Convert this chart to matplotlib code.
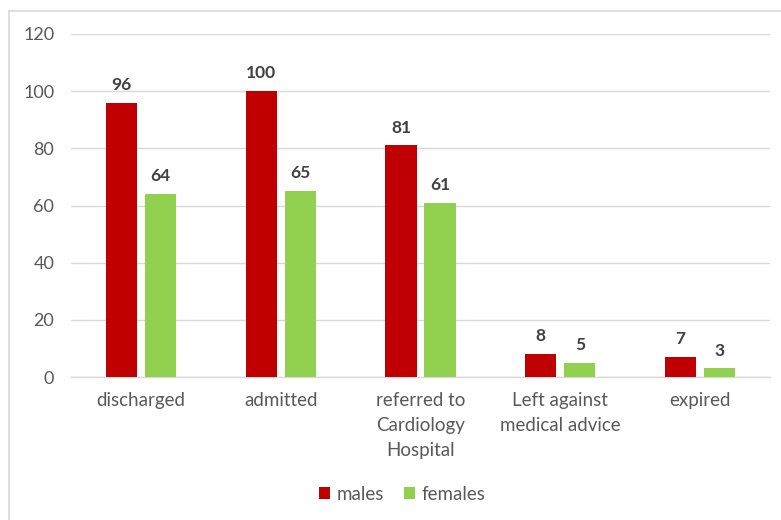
import matplotlib
matplotlib.use("Agg")
import matplotlib.pyplot as plt
from matplotlib.lines import Line2D
import numpy as np

categories = ["discharged", "admitted", "referred to\nCardiology\nHospital",
              "Left against\nmedical advice", "expired"]
males = [96, 100, 81, 8, 7]
females = [64, 65, 61, 5, 3]
yticks = [0, 20, 40, 60, 80, 100, 120]

plt.rcParams['font.family'] = ['Lato', 'DejaVu Sans']

W, H = 781, 520
fig = plt.figure(figsize=(W / 100, H / 100), dpi=100)
ax = fig.add_axes([71 / W, (H - 377) / H, (770 - 71) / W, (377 - 34) / H])

x = np.arange(len(categories))
bw = 0.222
gap = 0.057
off = (bw + gap) / 2
ax.bar(x - off, males, bw, color="#C00000", label="males", zorder=3)
ax.bar(x + off, females, bw, color="#92D050", label="females", zorder=3)

for xs, vals in ((x - off, males), (x + off, females)):
    for xi, v in zip(xs, vals):
        ax.annotate(str(v), (xi, v), xytext=(0, 7), textcoords="offset points",
                    ha="center", va="bottom", fontsize=12.5, fontweight="bold",
                    color="#404040")

ax.set_xlim(-0.5, len(categories) - 0.5)
ax.set_ylim(0, 120)
ax.set_yticks(yticks)
ax.set_xticks(x)
ax.set_xticklabels(categories, fontsize=13.5, color="#595959", linespacing=1.55)
ax.tick_params(axis="y", labelsize=13, labelcolor="#595959", length=0, pad=12)
ax.tick_params(axis="x", length=0, pad=11)
ax.grid(axis="y", color="#D9D9D9", linewidth=1, zorder=0)
for s in ["top", "right", "left"]:
    ax.spines[s].set_visible(False)
ax.spines["bottom"].set_color("#D9D9D9")
ax.spines["bottom"].set_linewidth(1)

leg = fig.legend(loc="center", bbox_to_anchor=(402 / W, 1 - 494 / H), ncol=2,
                 frameon=False, fontsize=13.5, handlelength=0.6, handleheight=0.6,
                 handletextpad=0.35, columnspacing=1.05)
for t in leg.get_texts():
    t.set_color("#595959")

# outer chart border (left and top edges)
fig.add_artist(Line2D([9 / W, 9 / W], [0, 1 - 11 / H], transform=fig.transFigure,
                      color="#D9D9D9", linewidth=1.2))
fig.add_artist(Line2D([9 / W, 1], [1 - 11 / H, 1 - 11 / H], transform=fig.transFigure,
                      color="#D9D9D9", linewidth=1.2))

fig.savefig("out.png", dpi=100)
